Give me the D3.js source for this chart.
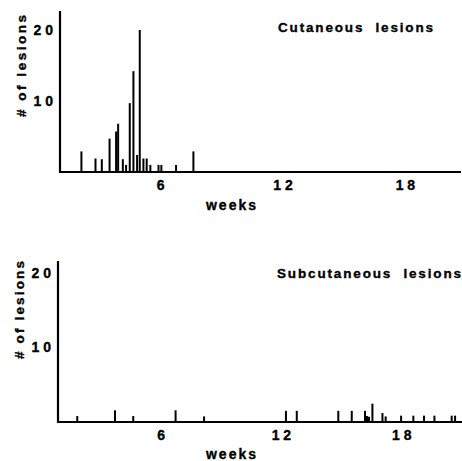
<!DOCTYPE html>
<html><head><meta charset="utf-8">
<script src="https://cdn.jsdelivr.net/npm/d3@7"></script>
<style>body{margin:0;background:#fff}svg{display:block}text{font-family:"Liberation Sans",Arial,sans-serif;font-weight:bold;fill:#000;stroke:#000;stroke-width:0.35px}</style>
</head><body>
<script>
// Cutaneous lesions: week of onset, number of lesions
const cutWeeks  = [2.14,2.83,3.14,3.52,3.84,3.94,4.17,4.33,4.51,4.69,4.87,5.0,5.18,5.34,5.52,5.92,6.06,6.78,7.63];
const cutCounts = [2.9,1.9,1.8,4.7,5.7,6.8,1.8,1.0,9.7,14.2,2.4,20,1.9,1.9,1.0,1.0,1.0,1.0,2.9];
// Subcutaneous lesions
const subWeeks  = [1.85,3.73,4.64,6.75,8.17,12.25,12.79,14.86,15.53,16.19,16.29,16.39,16.56,17.06,17.22,17.99,18.6,19.13,19.65,20.51,20.68];
const subCounts = [0.8,1.57,0.8,1.57,0.75,1.5,1.5,1.5,1.5,1.5,0.8,0.7,2.46,1.2,0.75,0.85,0.85,0.85,0.85,0.85,0.85];
const xTicks = [6,12,18];
const yTicks = [10,20];
const titles = ["Cutaneous  lesions","Subcutaneous  lesions"];
const xLabel = "weeks";
const yLabel = "# of lesions";

const svg = d3.select("body").append("svg").attr("width",462).attr("height",461);

function panel(cfg){
  const x = d3.scaleLinear().domain(cfg.xDom).range([cfg.x0, cfg.x1]);
  const y = d3.scaleLinear().domain([0, cfg.yMax]).range([cfg.base, cfg.top]);
  const g = svg.append("g");
  // bars
  g.selectAll("rect.bar").data(cfg.weeks).join("rect")
    .attr("x", d => x(d) - 1).attr("width", 2)
    .attr("y", (d,i) => y(cfg.counts[i]))
    .attr("height", (d,i) => cfg.base - y(cfg.counts[i]))
    .attr("fill","#000");
  // x axis
  const xa = g.append("g").attr("transform",`translate(0,${cfg.base})`)
    .call(d3.axisBottom(x).tickValues(xTicks).tickSize(0).tickPadding(8).tickFormat(d => String(d).split("").join(" ")));
  xa.select(".domain").remove();
  xa.selectAll("text").attr("font-size",14).attr("font-family","Liberation Sans, Arial, sans-serif").attr("font-weight","bold").attr("fill","#000");
  g.append("line").attr("x1",cfg.x0-1).attr("x2",cfg.xEnd).attr("y1",cfg.base).attr("y2",cfg.base).attr("stroke","#000").attr("stroke-width",2.2);
  // y axis
  const ya = g.append("g").attr("transform",`translate(${cfg.x0},0)`)
    .call(d3.axisLeft(y).tickValues(yTicks).tickSize(0).tickPadding(7).tickFormat(d => String(d).split("").join(" ")));
  ya.select(".domain").remove();
  ya.selectAll("text").attr("font-size",14).attr("font-family","Liberation Sans, Arial, sans-serif").attr("font-weight","bold").attr("fill","#000");
  g.append("line").attr("x1",cfg.x0).attr("x2",cfg.x0).attr("y1",cfg.axTop).attr("y2",cfg.base+1).attr("stroke","#000").attr("stroke-width",2.2);
  // labels
  g.append("text").attr("x",232).attr("y",cfg.base+cfg.xlOff).attr("text-anchor","middle")
    .attr("font-size",14).attr("letter-spacing",2).text(xLabel);
  g.append("text").attr("transform",`translate(${cfg.ylx},${cfg.yly}) rotate(-90)`).attr("text-anchor","middle")
    .attr("font-size",13.5).attr("textLength",cfg.ylLen).attr("lengthAdjust","spacing").text(yLabel);
  g.append("text").attr("x",cfg.tx).attr("y",cfg.ty).attr("font-size",13.5)
    .attr("textLength",cfg.tLen).attr("lengthAdjust","spacing").style("white-space","pre").text(cfg.title);
}

panel({weeks:cutWeeks, counts:cutCounts, xDom:[1.09,20.7], x0:60, x1:460, xEnd:461, base:172, top:30, yMax:20, axTop:11,
  xlOff:38, ylx:26, yly:66, ylLen:102, tx:278, ty:32, tLen:155, title:titles[0]});
panel({weeks:subWeeks, counts:subCounts, xDom:[0.89,21.0], x0:58, x1:461.5, xEnd:462, base:422, top:273, yMax:20, axTop:261,
  xlOff:37, ylx:24, yly:310, ylLen:98, tx:277, ty:278, tLen:184, title:titles[1]});
</script>
</body></html>
